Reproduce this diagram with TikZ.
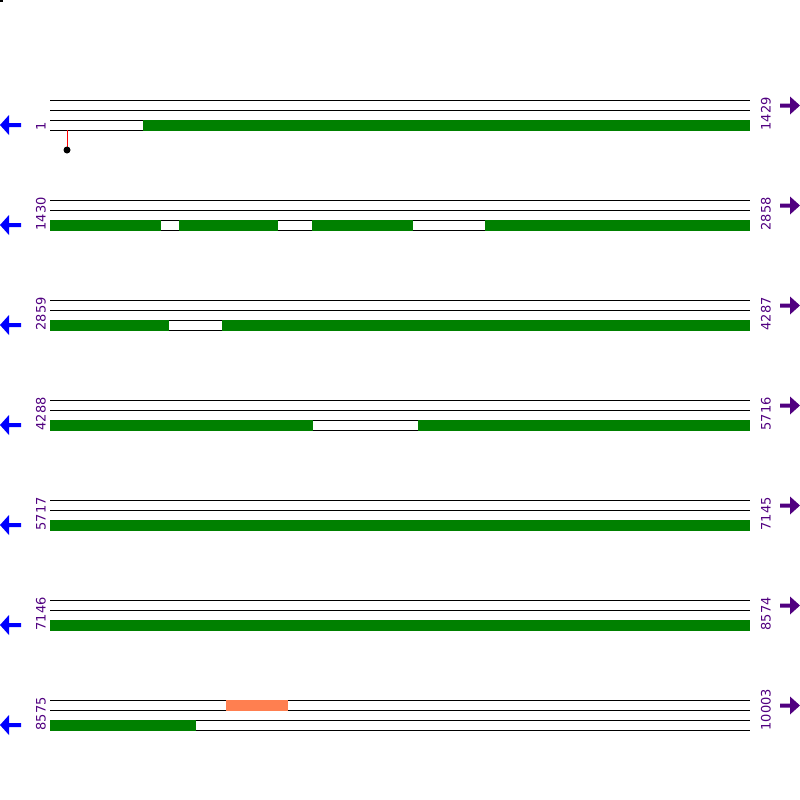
\documentclass[tikz,border=0pt]{standalone}
\usepackage{fontspec}
\setmainfont{DejaVu Sans}
\definecolor{lblpurple}{RGB}{80,0,128}
\definecolor{bargreen}{RGB}{0,128,0}
\definecolor{coral}{RGB}{255,127,80}
\begin{document}
\begin{tikzpicture}[x=1pt,y=-1pt,
  rowline/.style={draw=black,line width=1pt},
  greenbar/.style={fill=bargreen},
  lbl/.style={rotate=90,anchor=west,inner sep=0pt,text=lblpurple,font=\fontsize{13}{13}\selectfont},
  larrow/.style={fill=blue},
  rarrow/.style={fill=lblpurple}]
\useasboundingbox (0,0) rectangle (800,800);
\fill (0,0) rectangle (3,2);
% rows
\foreach \i/\a/\b in {0/1/1429,1/1430/2858,2/2859/4287,3/4288/5716,4/5717/7145,5/7146/8574,6/8575/10003}{
  \pgfmathsetmacro{\yy}{100+100*\i}
  \foreach \d in {0,10,20,30}{
    \draw[rowline] (50,\yy+\d) -- (750,\yy+\d);
  }
  \node[lbl] (l\i) at (41,\yy+30.5) {\a};
  \node[lbl] (r\i) at (766,\yy+30.5) {\b};
  \fill[larrow] (0,\yy+25) -- (9,\yy+15) -- (9,\yy+23) -- (21,\yy+23) -- (21,\yy+27) -- (9,\yy+27) -- (9,\yy+35) -- cycle;
  \fill[rarrow] (800,\yy+5.5) -- (790,\yy-3.5) -- (790,\yy+3.5) -- (780,\yy+3.5) -- (780,\yy+7.5) -- (790,\yy+7.5) -- (790,\yy+14.5) -- cycle;
}
% green bars
\foreach \x/\y/\w in {143/120/750,
  50/220/161, 179/220/278, 312/220/413, 485/220/750,
  50/320/169, 222/320/750,
  50/420/313, 418/420/750,
  50/520/750, 50/620/750, 50/720/196}{
  \fill[greenbar] (\x,\y-0.5) rectangle (\w,\y+10.5);
}
% orange feature
\fill[coral] (226,699.5) rectangle (288,710.5);
% lollipop
\draw[red,line width=1pt] (67,130) -- (67,150);
\fill[black] (67,150) circle (3.5);
\end{tikzpicture}
\end{document}
